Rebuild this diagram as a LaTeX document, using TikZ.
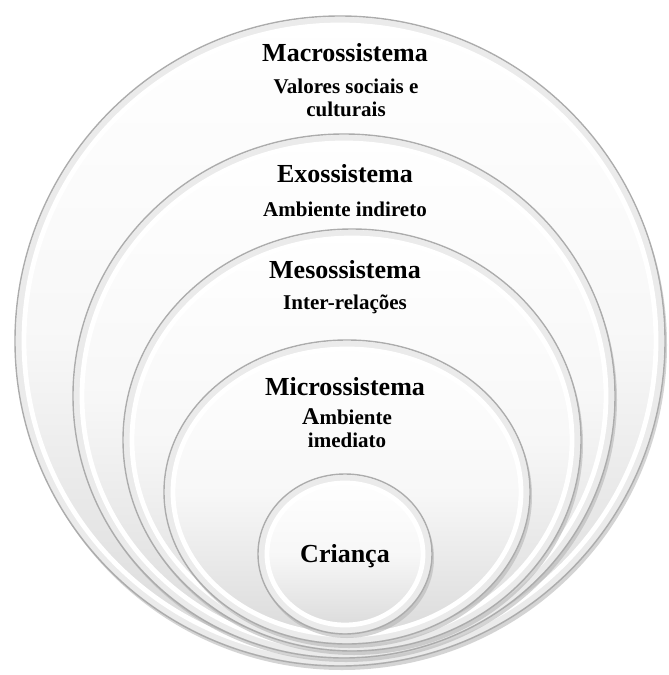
\documentclass[tikz,border=0pt]{standalone}
\usepackage{fontspec}
\setmainfont{Liberation Serif}
\usepackage{tikz}

\tikzset{
  ringshadow/.style={fill=gray!60, opacity=0.55},
  ringfill/.style={top color=white, bottom color=gray!30, middle color=gray!6},
  ringedge/.style={draw=gray!65, line width=0.7pt},
  ringband/.style={draw=gray!16, line width=3pt},
  ringshine/.style={draw=white, line width=2.4pt},
  title/.style={font=\bfseries\fontsize{13}{15}\selectfont, align=center},
  sub/.style={font=\bfseries\fontsize{10.5}{11.2}\selectfont, align=center}
}

\newcommand{\ring}[4]{%
  \fill[ringshadow] (#1+2,#2+4) ellipse [x radius=#3, y radius=#4];
  \shade[ringfill] (#1,#2) ellipse [x radius=#3, y radius=#4];
  \draw[ringband] (#1,#2) ellipse [x radius=#3-4, y radius=#4-4];
  \draw[ringshine] (#1,#2) ellipse [x radius=#3-9, y radius=#4-9];
  \draw[ringedge] (#1,#2) ellipse [x radius=#3, y radius=#4];
}

\begin{document}
\begin{tikzpicture}[x=0.5pt, y=-0.5pt]
    \fill[white] (0,0) rectangle (669,675);
    \useasboundingbox (0,0) rectangle (669,675);
    \ring{340}{341}{325}{325}
    \ring{344}{396}{271}{262}
    \ring{352}{440}{229}{211}
    \ring{347}{492}{183}{152}
    \ring{345}{554}{87}{80}
    \node[title] (macro) at (345,53) {Macrossistema};
    \node[sub] (macrosub) at (346,98) {Valores sociais e\\culturais};
    \node[title] (exo) at (345,174) {Exossistema};
    \node[sub] (exosub) at (345,209) {Ambiente indireto};
    \node[title] (meso) at (345,270) {Mesossistema};
    \node[sub] (mesosub) at (345,304) {Inter-relações};
    \node[title] (micro) at (345,387) {Microssistema};
    \node[sub] (microsub) at (347,428) {{\fontsize{12}{12}\selectfont A}mbiente\\imediato};
    \node[title] (child) at (345,556) {Criança};
\end{tikzpicture}
\end{document}
